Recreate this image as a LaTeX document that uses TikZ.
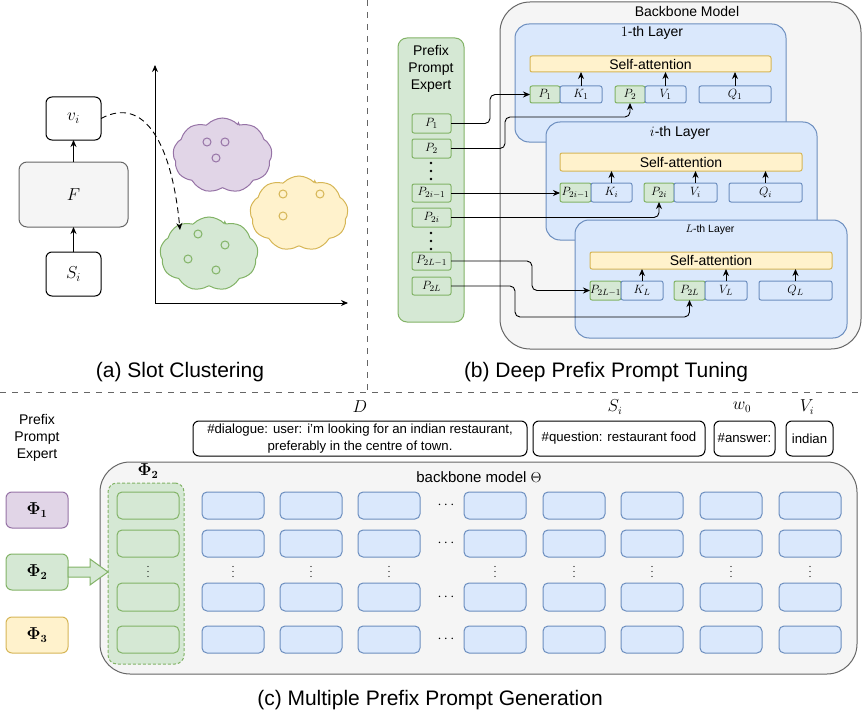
\documentclass[tikz,border=0pt]{standalone}
\usepackage[no-math]{fontspec}
\setmainfont{Liberation Sans}
\usetikzlibrary{arrows.meta,shapes.symbols,calc}
\definecolor{bluefill}{HTML}{DAE8FC}
\definecolor{bluedraw}{HTML}{6C8EBF}
\definecolor{greenfill}{HTML}{D5E8D4}
\definecolor{greendraw}{HTML}{82B366}
\definecolor{yellowfill}{HTML}{FFF2CC}
\definecolor{yellowdraw}{HTML}{D6B656}
\definecolor{purplefill}{HTML}{E1D5E7}
\definecolor{purpledraw}{HTML}{9673A6}
\definecolor{grayfill}{HTML}{F5F5F5}
\definecolor{graydraw}{HTML}{666666}
\newcommand\mybox[6]{\node[#2, inner sep=0pt, outer sep=0pt, minimum width={(#5)-(#3)}, minimum height={(#6)-(#4)}] (#1) at ({((#3)+(#5))/2},{((#4)+(#6))/2})}
\newcommand\bphi[1]{$\mathbf{\Phi}_{\mathbf{#1}}$}
\tikzset{
  base/.style={line width=1pt, rounded corners=4pt, font=\fontsize{14}{17}\selectfont},
  wbox/.style={base, draw=black, fill=white, rounded corners=6pt},
  graybox/.style={base, draw=graydraw, fill=grayfill, rounded corners=8pt},
  bluebox/.style={base, draw=bluedraw, fill=bluefill},
  greenbox/.style={base, draw=greendraw, fill=greenfill},
  yellowbox/.style={base, draw=yellowdraw, fill=yellowfill},
  purplebox/.style={base, draw=purpledraw, fill=purplefill},
  cell/.style={font=\fontsize{12.5}{14}\selectfont},
  mathbig/.style={font=\fontsize{18}{20}\selectfont},
  arr/.style={line width=0.9pt, -{Stealth[length=7pt,width=6pt]}},
  conn/.style={arr, rounded corners=5pt},
  sepline/.style={draw=graydraw, line width=1pt, dash pattern=on 6pt off 6pt},
  txt/.style={font=\fontsize{14}{17}\selectfont, inner sep=0pt},
  mtxt/.style={font=\fontsize{16}{18}\selectfont, inner sep=0pt},
  captxt/.style={font=\fontsize{21}{25}\selectfont, inner sep=0pt},
  smalldot/.style={circle, fill=black, inner sep=0pt, minimum size=2.6pt},
  tinydot/.style={circle, fill=black, inner sep=0pt, minimum size=1.4pt},
  cl/.style={cloud, cloud puffs=9, cloud puff arc=115, aspect=1.3, line width=1pt, inner sep=0pt},
  sc/.style={circle, line width=1pt, inner sep=0pt, minimum size=8pt},
}
\begin{document}
\begin{tikzpicture}[x=1pt,y=-1pt]
\useasboundingbox (0,0) rectangle (863,717);
% separators
\draw[sepline] (367,0) -- (367,392);
\draw[sepline] (0,392) -- (863,392);

% ---------- (a) ----------
\mybox{vi}{wbox, mathbig}{46}{97}{101}{140}{$v_i$};
\mybox{F}{graybox, mathbig}{19}{162}{128}{227}{$F$};
\mybox{si}{wbox, mathbig}{46}{252}{101}{296}{$S_i$};
\draw[arr] (si) -- (F);
\draw[arr] (F) -- (vi);
\coordinate (O) at (155,303);
\coordinate (ytop) at (155,65);
\coordinate (xend) at (348,303);
\draw[arr] (O) -- (ytop);
\draw[arr] (O) -- (xend);
\node[cl, purplebox, minimum width=99pt, minimum height=75pt] (cp) at (222.5,155.5) {};
\node[cl, yellowbox, minimum width=98pt, minimum height=75pt] (cy) at (299,213.5) {};
\node[cl, greenbox, minimum width=98pt, minimum height=74pt] (cg) at (209,254) {};
\foreach \x/\y [count=\k] in {207/142,225/142,216/158}
  \node[sc, draw=purpledraw] (pc\k) at (\x,\y) {};
\foreach \x/\y [count=\k] in {283/194,320/194,283/216}
  \node[sc, draw=yellowdraw] (yc\k) at (\x,\y) {};
\foreach \x/\y [count=\k] in {198/234,225/245,188/259,216/270}
  \node[sc, draw=greendraw] (gc\k) at (\x,\y) {};
\coordinate (tgt) at (180,230);
\draw[arr, dash pattern=on 6pt off 4pt] (vi.east) .. controls (145,95) and (172,145) .. (tgt);
\node[captxt] (capa) at (180,372) {(a) Slot Clustering};

% ---------- (b) ----------
\mybox{bb}{graybox, rounded corners=30pt}{500}{2}{861}{349}{};
\node[txt] (bbt) at (687,11) {Backbone Model};
\mybox{pe}{greenbox, rounded corners=9pt}{398}{38}{464}{322}{};
\node[txt, align=center] (pet) at (431,69) {Prefix\\Prompt\\Expert};

% layer 1
\mybox{L1}{bluebox, rounded corners=14pt}{515}{24}{786}{142}{};
\node[txt] (L1t) at (652,33) {$1$-th Layer};
\mybox{sa1}{yellowbox, rounded corners=2pt}{530}{56}{771}{72}{Self-attention};
\mybox{a1}{greenbox, cell, rounded corners=2pt}{530}{86}{560}{103}{$P_1$};
\mybox{k1}{bluebox, cell, rounded corners=2pt}{560}{86}{602}{103}{$K_1$};
\mybox{a2}{greenbox, cell, rounded corners=2pt}{615}{86}{645}{103}{$P_2$};
\mybox{v1}{bluebox, cell, rounded corners=2pt}{645}{86}{686}{103}{$V_1$};
\mybox{q1}{bluebox, cell, rounded corners=2pt}{699}{86}{771}{103}{$Q_1$};
\foreach \n in {k1,v1,q1} \draw[arr] (\n.north) -- (\n.north |- sa1.south);

% layer i
\mybox{Li}{bluebox, rounded corners=14pt}{546}{122}{817}{240}{};
\node[txt] (Lit) at (680,133) {$i$-th Layer};
\mybox{sai}{yellowbox, rounded corners=2pt}{560}{153}{802}{171}{Self-attention};
\mybox{b1}{greenbox, cell, rounded corners=2pt}{560}{183}{591}{202}{$P_{2i-1}$};
\mybox{ki}{bluebox, cell, rounded corners=2pt}{591}{183}{632}{202}{$K_i$};
\mybox{b2}{greenbox, cell, rounded corners=2pt}{644}{183}{674}{202}{$P_{2i}$};
\mybox{vi2}{bluebox, cell, rounded corners=2pt}{674}{183}{717}{202}{$V_i$};
\mybox{qi}{bluebox, cell, rounded corners=2pt}{729}{183}{802}{202}{$Q_i$};
\foreach \n in {ki,vi2,qi} \draw[arr] (\n.north) -- (\n.north |- sai.south);

% layer L
\mybox{LL}{bluebox, rounded corners=14pt}{575}{220}{847}{338}{};
\node[txt, font=\fontsize{10.5}{12}\selectfont] (LLt) at (710,230) {$L$-th Layer};
\mybox{saL}{yellowbox, rounded corners=2pt}{590}{252}{832}{269}{Self-attention};
\mybox{c1}{greenbox, cell, rounded corners=2pt}{590}{281}{621}{300}{$P_{2L-1}$};
\mybox{kL}{bluebox, cell, rounded corners=2pt}{621}{281}{663}{300}{$K_L$};
\mybox{c2}{greenbox, cell, rounded corners=2pt}{674}{281}{705}{300}{$P_{2L}$};
\mybox{vL}{bluebox, cell, rounded corners=2pt}{705}{281}{747}{300}{$V_L$};
\mybox{qL}{bluebox, cell, rounded corners=2pt}{759}{281}{832}{300}{$Q_L$};
\foreach \n in {kL,vL,qL} \draw[arr] (\n.north) -- (\n.north |- saL.south);

% left prefix prompts
\mybox{lp1}{greenbox, cell, rounded corners=2pt}{412}{114}{451}{133}{$P_1$};
\mybox{lp2}{greenbox, cell, rounded corners=2pt}{412}{139}{451}{158}{$P_2$};
\mybox{lp3}{greenbox, cell, rounded corners=2pt}{412}{184}{451}{202}{$P_{2i-1}$};
\mybox{lp4}{greenbox, cell, rounded corners=2pt}{412}{208}{451}{227}{$P_{2i}$};
\mybox{lp5}{greenbox, cell, rounded corners=2pt}{412}{252}{451}{270}{$P_{2L-1}$};
\mybox{lp6}{greenbox, cell, rounded corners=2pt}{412}{277}{451}{295}{$P_{2L}$};
\foreach \y [count=\k] in {163,171,179,233,241,249} \node[smalldot] (pd\k) at (431,\y) {};

% connectors
\draw[conn] (lp1.east) -- ++(39,0) |- (a1.west);
\draw[conn] (lp2.east) -- ++(54,0) -- ++(0,-31.5) -| (a2.south);
\draw[conn] (lp3.east) -- (lp3.east -| b1.west);
\draw[conn] (lp4.east) -| (b2.south);
\draw[conn] (lp5.east) -- ++(81,0) |- (c1.west);
\draw[conn] (lp6.east) -- ++(64,0) -- ++(0,31) -| (c2.south);
\node[captxt] (capb) at (606,372) {(b) Deep Prefix Prompt Tuning};

% ---------- (c) ----------
\node[txt, align=center] (pe2) at (37,438) {Prefix\\Prompt\\Expert};
\mybox{phi1}{purplebox, mtxt, rounded corners=6pt}{6}{492}{68}{528}{\bphi{1}};
\mybox{phi2}{greenbox, mtxt, rounded corners=6pt}{6}{554}{68}{590}{\bphi{2}};
\mybox{phi3}{yellowbox, mtxt, rounded corners=6pt}{6}{617}{68}{653}{\bphi{3}};

\node[mtxt] (lD) at (360,407) {$D$};
\node[mtxt] (lS) at (615,407) {$S_i$};
\node[mtxt] (lw) at (742,407) {$w_0$};
\node[mtxt] (lV) at (807,407) {$V_i$};
\mybox{dlg}{wbox, align=center, font=\fontsize{13.2}{17}\selectfont}{193}{421}{527}{456}{\#dialogue: user: i'm looking for an indian restaurant,\\preferably in the centre of town.};
\mybox{qst}{wbox, font=\fontsize{13.2}{17}\selectfont}{533}{421}{705}{456}{\#question: restaurant food};
\mybox{ans}{wbox, font=\fontsize{13.2}{17}\selectfont}{714}{421}{775}{456}{\#answer:};
\mybox{ind}{wbox, font=\fontsize{13.2}{17}\selectfont}{786}{421}{833}{456}{indian};

\mybox{bb2}{graybox, rounded corners=30pt}{100}{462}{857}{674}{};
\node[txt, font=\fontsize{15}{18}\selectfont] (bb2t) at (479,477) {backbone model $\Theta$};
\node[mtxt] (phil) at (148,471) {\bphi{2}};
\mybox{grp}{greenbox, dash pattern=on 3pt off 2pt, rounded corners=9pt}{108}{483}{184}{664}{};
\foreach \ya/\yb [count=\r] in {492/519,530/557,583/611,626/653}{
  \mybox{g\r}{greenbox, rounded corners=5pt}{117}{\ya}{179}{\yb}{};
  \foreach \xa [count=\c] in {202,280,358,464,543,621,700,779}{
    \mybox{m\r-\c}{bluebox, rounded corners=5pt}{\xa}{\ya}{\xa+62}{\yb}{};
  }
  \node[txt] (hd\r) at (446,{(\ya+\yb)/2}) {$\cdots$};
}
\foreach \x [count=\c] in {148,233,311,389,495,574,652,731,810}
  \foreach \y [count=\d] in {566.5,571.5,576.5}
    \node[tinydot] (vd\c-\d) at (\x,\y) {};
\draw[greenbox, rounded corners=0pt]
  ($(phi2.east)+(0,-5)$) -- ++(22,0) -- ++(0,-8) -- (grp.west |- phi2.east)
  -- ($(phi2.east)+(22,13)$) -- ++(0,-8) -- ($(phi2.east)+(0,5)$) -- cycle;
\node[captxt] (capc) at (430,700) {(c) Multiple Prefix Prompt Generation};
\end{tikzpicture}
\end{document}
